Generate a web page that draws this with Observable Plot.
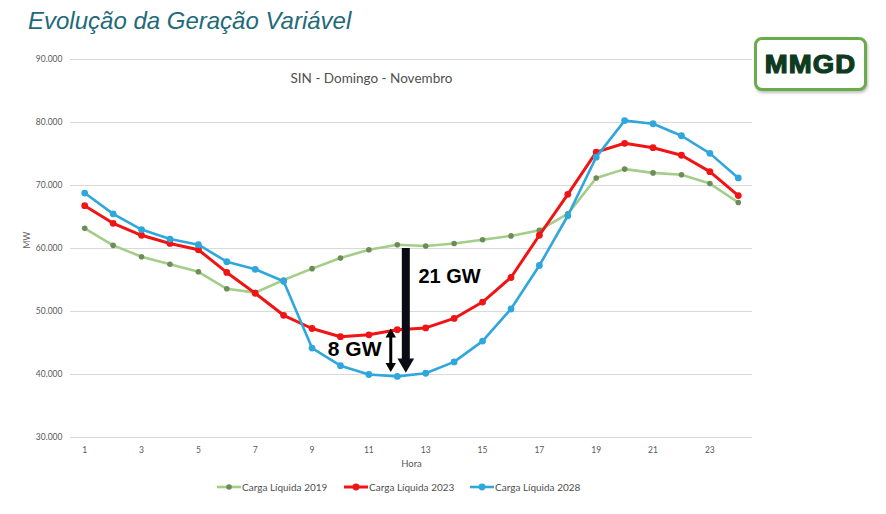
<!DOCTYPE html>
<html>
<head>
<meta charset="utf-8">
<script src="https://cdn.jsdelivr.net/npm/d3@7"></script>
<script src="https://cdn.jsdelivr.net/npm/@observablehq/plot@0.6"></script>
<style>
  html, body { margin: 0; padding: 0; background: #fff; }
  #wrap { position: relative; width: 886px; height: 514px; overflow: hidden; }
  #title { position: absolute; left: 28px; top: 9px; font: italic 24px/24px "Liberation Sans", Arial, sans-serif; color: #22697a; white-space: nowrap; }
  #logo { position: absolute; left: 754px; top: 37px; width: 107px; height: 48px; border: 3.5px solid #6aab4b; border-radius: 8px; box-shadow: 1px 2px 3px rgba(0,0,0,0.25); background: #fff; display: flex; align-items: center; justify-content: center; }
  #logo span { font: bold 25px/25px "Liberation Sans", Arial, sans-serif; color: #0e3b1f; letter-spacing: 1px; -webkit-text-stroke: 1.2px #0e3b1f; transform: scaleX(1.1); display: inline-block; margin-left: 1px; }
  .leg { position: absolute; top: 480px; height: 14px; display: flex; align-items: center; font: 10px "Lato", sans-serif; color: #505050; white-space: nowrap; }
  .leg svg { margin-right: 1px; }
</style>
</head>
<body>
<div id="wrap">
  <div id="title">Evolução da Geração Variável</div>
  <div id="logo"><span>MMGD</span></div>
</div>
<script>
// ---- data ----
const hours = [1,2,3,4,5,6,7,8,9,10,11,12,13,14,15,16,17,18,19,20,21,22,23,24];
const carga2019 = [63200,60500,58700,57500,56300,53600,53000,55000,56800,58500,59800,60600,60400,60800,61400,62000,62900,65500,71200,72600,72000,71700,70300,67300];
const carga2023 = [66800,64000,62100,60800,59800,56200,52900,49400,47300,46000,46300,47100,47400,48900,51500,55400,62100,68600,75300,76700,76000,74800,72200,68400];
const carga2028 = [68800,65500,63000,61500,60600,57900,56700,54800,44200,41400,40000,39700,40200,42000,45300,50400,57300,65200,74500,80300,79800,77900,75100,71200];
const seriesNames = ["Carga Líquida 2019", "Carga Líquida 2023", "Carga Líquida 2028"];
const seriesColors = ["#a3cd88", "#f01414", "#2fa7dc"];
const dotColors = ["#6c8d58", "#f01414", "#2fa7dc"];
const xTicks = [1,3,5,7,9,11,13,15,17,19,21,23];
const yTicks = [30000,40000,50000,60000,70000,80000,90000];
const chartTitle = "SIN - Domingo - Novembro";
const xLabel = "Hora";
const yLabel = "MW";
// annotations: arrow hour, top value, tip value, label, label position
const bigArrow = {x: 12.3, top: 60000, tip: 40300};
const smallArrow = {x: 11.77, top: 47300, tip: 40400};
const labels = [
  {text: "21 GW", x: 13.84, y: 55600, size: 20},
  {text: "8 GW", x: 10.5, y: 44000, size: 21}
];

// ---- build ----
const locale = d3.formatLocale({decimal: ",", thousands: ".", grouping: [3], currency: ["R$", ""]});
const fmt = locale.format(",");

const allSeries = [carga2019, carga2023, carga2028];
const rows = allSeries.flatMap((vals, i) => hours.map((h, j) => ({hora: h, mw: vals[j], serie: seriesNames[i], idx: i})));

const marks = [
  Plot.gridY(yTicks, {stroke: "#d9d9d9", strokeOpacity: 1, strokeWidth: 1.2}),
  Plot.axisY(yTicks, {tickSize: 0, tickPadding: 8, tickFormat: fmt, label: null, fill: "#595959", fontSize: 8.5}),
  Plot.axisX(xTicks, {tickSize: 0, tickPadding: 9, tickFormat: d => String(d), label: null, fill: "#595959", fontSize: 8.5}),
  Plot.text([xLabel], {frameAnchor: "bottom", dy: 29, text: d => d, fill: "#595959", fontSize: 9.5}),
  Plot.text([yLabel], {frameAnchor: "left", dx: -43, rotate: -90, text: d => d, fill: "#595959", fontSize: 8.5}),
  Plot.text([chartTitle], {frameAnchor: "top", dx: -40, dy: 14, text: d => d, fill: "#505050", fontSize: 13.5, fontFamily: "Lato"})
];
const strokeWidths = [2.6, 3, 2.6];
const dotR = [2.8, 3.4, 3.4];
[0, 1, 2].forEach(i => {
  const d = rows.filter(r => r.idx === i);
  marks.push(Plot.line(d, {x: "hora", y: "mw", stroke: seriesColors[i], strokeWidth: strokeWidths[i]}));
  marks.push(Plot.dot(d, {x: "hora", y: "mw", fill: dotColors[i], r: dotR[i]}));
});

// big arrow
marks.push(Plot.ruleX([bigArrow], {x: "x", y1: "top", y2: "tip", stroke: "#0b0b16", strokeWidth: 8, insetBottom: 12, strokeLinecap: "butt"}));
marks.push(Plot.dot([bigArrow], {x: "x", y: "tip", symbol: "triangle", rotate: 180, r: 6.2, fill: "#0b0b16", dy: -9.4}));
// small double arrow
marks.push(Plot.ruleX([smallArrow], {x: "x", y1: "top", y2: "tip", stroke: "#000", strokeWidth: 3, insetTop: 8, insetBottom: 8}));
marks.push(Plot.dot([smallArrow], {x: "x", y: "tip", symbol: "triangle", rotate: 180, r: 3.9, fill: "#000", dy: -6}));
marks.push(Plot.dot([smallArrow], {x: "x", y: "top", symbol: "triangle", rotate: 0, r: 3.9, fill: "#000", dy: 6}));
// labels
labels.forEach(l => {
  marks.push(Plot.text([l], {x: "x", y: "y", text: "text", fontSize: l.size, fontWeight: "bold", fill: "#000", fontFamily: "Liberation Sans"}));
});

const chart = Plot.plot({
  width: 886,
  height: 514,
  marginLeft: 70,
  marginRight: 134,
  marginTop: 59,
  marginBottom: 77,
  x: {type: "linear", domain: [0.5, 24.5]},
  y: {type: "linear", domain: [30000, 90000]},
  style: {fontFamily: "Lato, sans-serif", fontSize: "8.5px", color: "#595959", background: "transparent"},
  marks
});
chart.style.position = "absolute";
chart.style.left = "0px";
chart.style.top = "0px";
const wrap = document.getElementById("wrap");
wrap.insertBefore(chart, wrap.firstChild);

// legend
const legX = [217, 344, 470];
seriesNames.forEach((name, i) => {
  const div = document.createElement("div");
  div.className = "leg";
  div.style.left = legX[i] + "px";
  div.innerHTML = `<svg width="24" height="8"><line x1="0" y1="4" x2="24" y2="4" stroke="${seriesColors[i]}" stroke-width="${strokeWidths[i]}"/><circle cx="12" cy="4" r="${dotR[i]}" fill="${dotColors[i]}"/></svg>${name}`;
  wrap.appendChild(div);
});
</script>
</body>
</html>
